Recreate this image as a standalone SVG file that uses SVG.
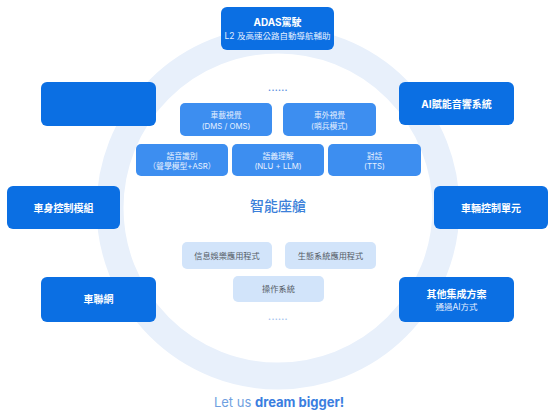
<svg xmlns="http://www.w3.org/2000/svg" width="554" height="415" viewBox="0 0 554 415">
<style>
text{font-family:Inter,"Noto Sans CJK TC","Noto Sans CJK SC",sans-serif;text-anchor:middle}
.ob{fill:#0b6fe3}
.mb{fill:#3d8ef0}
.lb{fill:#d2e4fa}
.ot{fill:#fff;font-size:10px;font-weight:700}
.os{fill:#e3eeff;font-size:8.5px}
.mt{fill:#e6f0ff;font-size:7.8px}
.lt{fill:#555c66;font-size:8.2px}
.dots{fill:#5b8fe0;font-size:9px;font-weight:700;letter-spacing:0.3px}
</style>
<rect width="554" height="415" fill="#fff"/>
<circle cx="278" cy="208" r="168" fill="none" stroke="#e8f0fb" stroke-width="27"/>
<g id="connectors"></g>
<g id="adas"><rect class="ob" x="221" y="7" width="113" height="43" rx="6"/><text class="ot" x="277.5" y="26">ADAS駕駛</text><text class="os" x="277.5" y="39">L2 及高速公路自動導航輔助</text></g>
<g id="blank"><rect class="ob" x="41" y="82" width="115" height="44" rx="6"/></g>
<g id="ai-audio"><rect class="ob" x="399" y="82" width="115" height="43" rx="6"/><text class="ot" x="456.5" y="107.5">AI賦能音響系統</text></g>
<g id="body-ctrl"><rect class="ob" x="7" y="186" width="113" height="43" rx="6"/><text class="ot" x="63.5" y="211.5">車身控制模組</text></g>
<g id="vehicle-ctrl"><rect class="ob" x="434" y="186" width="114" height="43" rx="6"/><text class="ot" x="491" y="211.5">車輛控制單元</text></g>
<g id="iov"><rect class="ob" x="41" y="277" width="115" height="45" rx="6"/><text class="ot" x="98.5" y="303">車聯網</text></g>
<g id="other"><rect class="ob" x="399" y="277" width="115" height="45" rx="6"/><text class="ot" x="456.5" y="298">其他集成方案</text><text class="os" x="456.5" y="310">通過AI方式</text></g>
<g id="dots-top"><text class="dots" x="278" y="91">......</text></g>
<g id="dms"><rect class="mb" x="180" y="103" width="92" height="33" rx="5"/><text class="mt" x="226" y="118">車載視覺</text><text class="mt" x="226" y="129">(DMS / OMS)</text></g>
<g id="exterior"><rect class="mb" x="283" y="103" width="93" height="33" rx="5"/><text class="mt" x="329.5" y="118">車外視覺</text><text class="mt" x="329.5" y="129">(哨兵模式)</text></g>
<g id="asr"><rect class="mb" x="136" y="144" width="92" height="32" rx="5"/><text class="mt" x="182" y="159">語音識別</text><text class="mt" x="182" y="169">（聲學模型+ASR）</text></g>
<g id="nlu"><rect class="mb" x="232" y="144" width="92" height="32" rx="5"/><text class="mt" x="278" y="159">語義理解</text><text class="mt" x="278" y="169">(NLU + LLM)</text></g>
<g id="tts"><rect class="mb" x="328" y="144" width="93" height="32" rx="5"/><text class="mt" x="374.5" y="159">對話</text><text class="mt" x="374.5" y="169">(TTS)</text></g>
<g id="center"><text x="278" y="211" style="fill:#3b7fd9;font-size:14px;font-weight:500">智能座艙</text></g>
<g id="infotainment"><rect class="lb" x="182" y="242" width="90" height="27" rx="5"/><text class="lt" x="227" y="259">信息娛樂應用程式</text></g>
<g id="ecosystem"><rect class="lb" x="285" y="242" width="91" height="27" rx="5"/><text class="lt" x="330.5" y="259">生態系統應用程式</text></g>
<g id="os"><rect class="lb" x="233" y="276" width="91" height="26" rx="5"/><text class="lt" x="278.5" y="292">操作系統</text></g>
<g id="dots-bottom"><text class="dots" x="278" y="320" style="fill:#a3c2ee">......</text></g>
<text x="279" y="407" style="font-size:13px;fill:#6f9fe0">Let us <tspan style="font-weight:700;fill:#3a7ee0">dream bigger!</tspan></text>
</svg>
